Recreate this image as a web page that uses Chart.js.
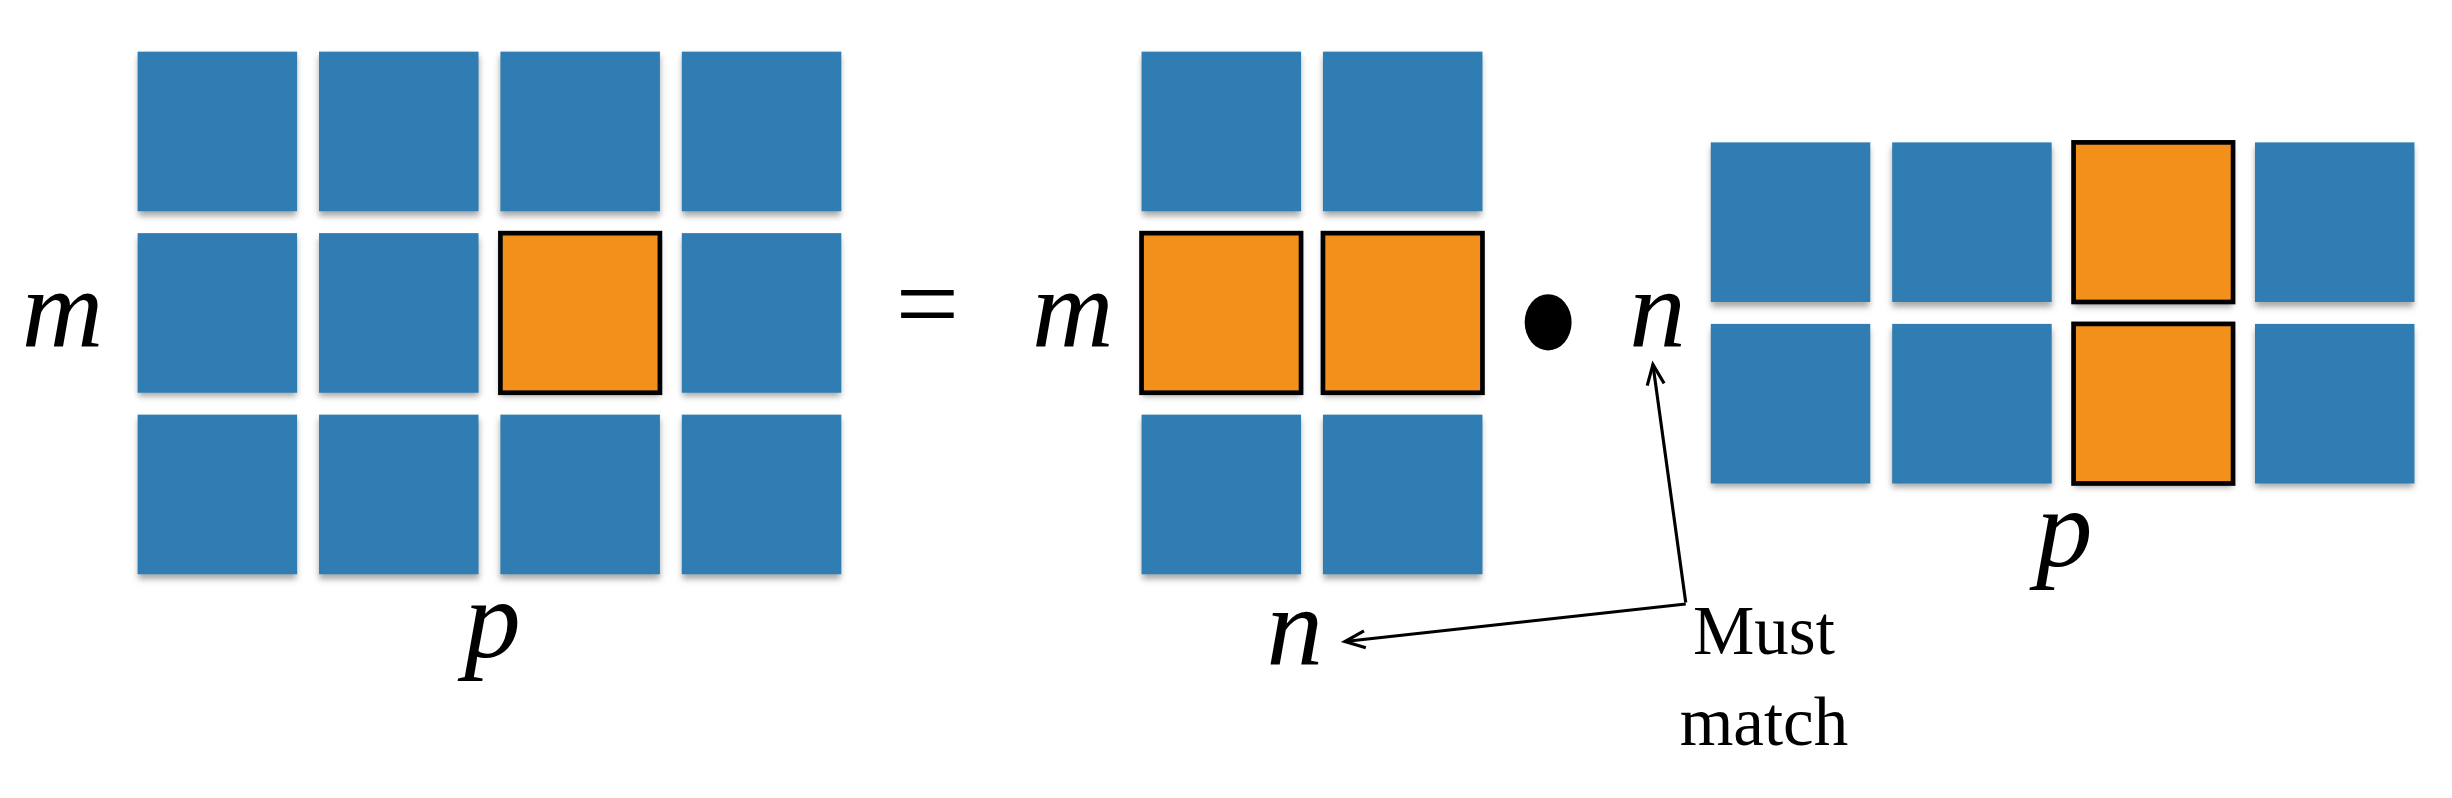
<!DOCTYPE html>
<html><head><meta charset="utf-8">
<script src="https://cdn.jsdelivr.net/npm/chart.js@4"></script>
<style>html,body{margin:0;padding:0;background:#fff;overflow:hidden}</style>
</head><body>
<canvas id="c" width="2452" height="798"></canvas>
<script>
// matrices: rows x cols, and which cells are highlighted [row, col]
const matrixNames = ['C', 'A', 'B'];
const matrixRows = [3, 3, 2];
const matrixCols = [4, 2, 4];
const highlighted = [[[1, 2]], [[1, 0], [1, 1]], [[0, 2], [1, 2]]];
const labels = ['m', 'p', '=', 'm', 'n', 'n', 'p'];
const noteLines = ['Must', 'match'];

// layout in a 1568 x 510 frame
const origins = [[88, 33], [730, 33], [1094, 91]];
const cell = 102, pitch = 116;
const labelPos = [[40, 222], [315, 420], [593, 218], [686, 222], [828, 425], [1060, 222], [1320, 362]];

const cells = [];
matrixNames.forEach((name, k) => {
	for (let r = 0; r < matrixRows[k]; r++) for (let c = 0; c < matrixCols[k]; c++) {
		const hot = highlighted[k].some(h => h[0] === r && h[1] === c);
		cells.push({ x: origins[k][0] + c * pitch, y: origins[k][1] + r * pitch, hot });
	}
});

const drawPlugin = {
	id: 'diagram',
	afterDatasetsDraw(chart) {
		const g = chart.ctx, sx = chart.scales.x, sy = chart.scales.y;
		const X = v => sx.getPixelForValue(v), Y = v => sy.getPixelForValue(v);
		const k = X(1) - X(0);
		g.save();
		cells.forEach(p => {
			const x0 = X(p.x), y0 = Y(p.y), w = X(p.x + cell) - x0, h = Y(p.y + cell) - y0;
			g.shadowColor = 'rgba(0,0,0,0.35)';
			g.shadowBlur = 4 * k; g.shadowOffsetY = 3 * k;
			g.fillStyle = p.hot ? '#f3901b' : '#2f7db3';
			g.fillRect(x0, y0, w, h);
			g.shadowColor = 'transparent';
			if (p.hot) {
				g.lineWidth = 3 * k; g.strokeStyle = '#000';
				g.strokeRect(x0, y0, w, h);
			}
		});
		g.fillStyle = '#000';
		g.textAlign = 'center'; g.textBaseline = 'alphabetic';
		labels.forEach((t, i) => {
			const [lx, ly] = labelPos[i];
			g.font = (t === '=' ? '' : 'italic ') + Math.round(72 * k) + 'px "Liberation Serif"';
			g.fillText(t, X(lx), Y(ly));
		});
		// dot operator
		g.beginPath();
		g.ellipse(X(990), Y(206), 15 * k, 18 * k, 0, 0, Math.PI * 2);
		g.fill();
		g.font = Math.round(44 * k) + 'px "Liberation Serif"';
		noteLines.forEach((t, i) => g.fillText(t, X(1128), Y(418 + i * 58)));
		// arrows
		const arrow = (x1, y1, x2, y2) => {
			g.lineWidth = 2 * k; g.strokeStyle = '#000';
			g.beginPath(); g.moveTo(X(x1), Y(y1)); g.lineTo(X(x2), Y(y2)); g.stroke();
			const a = Math.atan2(Y(y2) - Y(y1), X(x2) - X(x1)), L = 14 * k;
			g.beginPath();
			g.moveTo(X(x2) - L * Math.cos(a - 0.4), Y(y2) - L * Math.sin(a - 0.4));
			g.lineTo(X(x2), Y(y2));
			g.lineTo(X(x2) - L * Math.cos(a + 0.4), Y(y2) - L * Math.sin(a + 0.4));
			g.stroke();
		};
		arrow(1078, 385, 1057, 233);
		arrow(1078, 386, 860, 410);
		g.restore();
	}
};

new Chart(document.getElementById('c'), {
	type: 'scatter',
	data: { datasets: [{ data: cells.map(p => ({ x: p.x, y: p.y })), pointRadius: 0 }] },
	options: {
		responsive: false, animation: false,
		layout: { padding: 0 },
		plugins: { legend: { display: false }, tooltip: { enabled: false } },
		scales: {
			x: { type: 'linear', min: 0, max: 1568, display: false },
			y: { type: 'linear', min: 0, max: 510, reverse: true, display: false }
		}
	},
	plugins: [drawPlugin]
});
</script>
</body></html>
